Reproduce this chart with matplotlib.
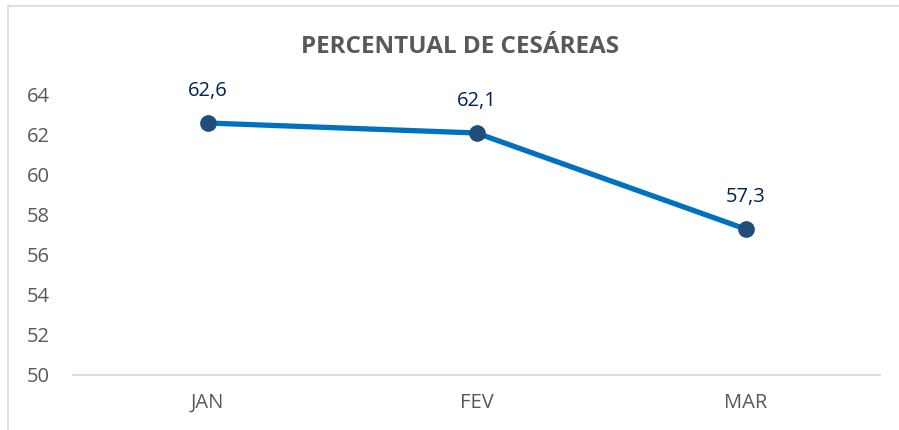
import matplotlib
matplotlib.use("Agg")
import matplotlib.pyplot as plt
from matplotlib.patches import Rectangle

months = ["JAN", "FEV", "MAR"]
values = [62.6, 62.1, 57.3]
labels = ["62,6", "62,1", "57,3"]
yticks = [50, 52, 54, 56, 58, 60, 62, 64]

W, H = 899, 430
fig = plt.figure(figsize=(W/100, H/100), dpi=100)
plt.rcParams['font.family'] = ['Open Sans', 'DejaVu Sans']

# outer border
fig.patches.append(Rectangle((8/W, -0.1), 2, (H-6)/H + 0.1, transform=fig.transFigure,
                             fill=False, edgecolor="#D9D9D9", linewidth=1.2))

ax = fig.add_axes([73/W, 55/H, (880-73)/W, (375-95)/H])
x = list(range(len(months)))
ax.plot(x, values, color="#0070C0", linewidth=3.8, zorder=2, solid_capstyle="round")
ax.plot(x, values, linestyle="none", marker="o", markersize=11,
        markerfacecolor="#1F4E79", markeredgecolor="#1F4E79", zorder=3)
for xi, v, lab in zip(x, values, labels):
    ax.annotate(lab, (xi, v), xytext=(0, 23), textcoords="offset points",
                ha="center", va="center", color="#002060", fontsize=14.5)

ax.set_xlim(-0.5, 2.5)
ax.set_ylim(50, 64)
ax.set_yticks(yticks)
ax.set_yticklabels([str(t) for t in yticks])
ax.set_xticks(x)
ax.set_xticklabels(months)
for s in ["top", "right", "left"]:
    ax.spines[s].set_visible(False)
ax.spines["bottom"].set_color("#D9D9D9")
ax.spines["bottom"].set_linewidth(1.3)
ax.tick_params(axis="both", length=0, labelsize=14.5, colors="#595959")
ax.tick_params(axis="y", pad=17)
ax.tick_params(axis="x", pad=13)

fig.text(460/W, 1 - 47/H, "PERCENTUAL DE CESÁREAS", ha="center", va="center",
         fontsize=17.5, fontweight="bold", color="#595959")

fig.savefig("out.png", dpi=100)
